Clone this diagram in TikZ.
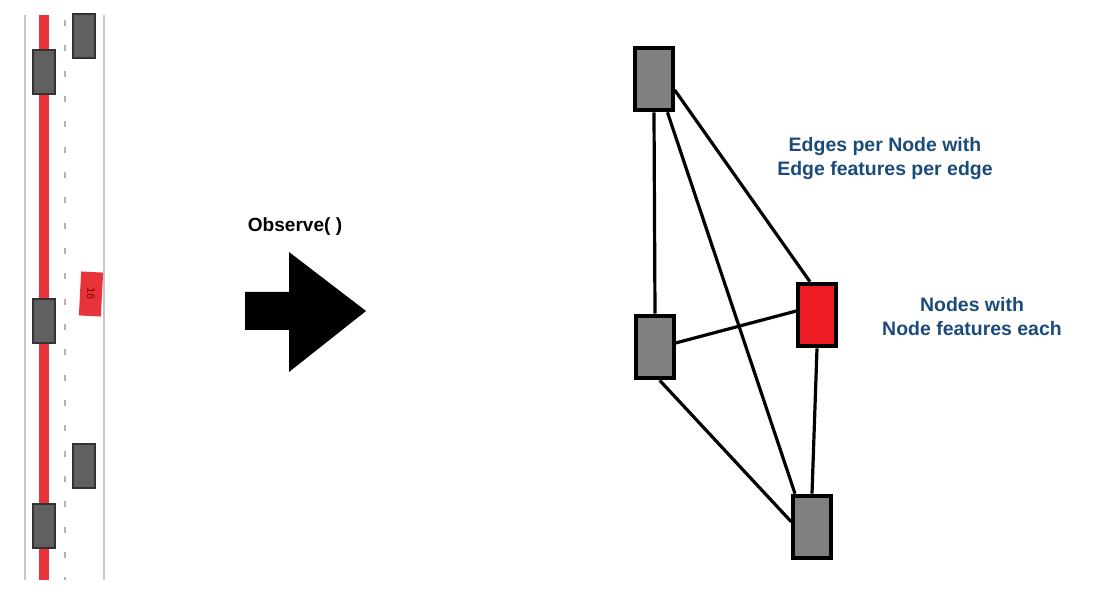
\documentclass[tikz,border=0pt]{standalone}
\usepackage{fontspec}
\setmainfont{Liberation Sans}
\usepackage{xcolor}
\usetikzlibrary{arrows.meta,calc,positioning}
\definecolor{laneRed}{HTML}{E8333A}
\definecolor{carGrey}{HTML}{606060}
\definecolor{graphRed}{HTML}{ED1C24}
\definecolor{labelBlue}{HTML}{1B4B7A}

\begin{document}
\begin{tikzpicture}[x=0.75pt,y=-0.75pt,>=Latex,
  car/.style={draw=black!80,fill=carGrey,line width=0.8pt,inner sep=0pt,minimum width=16.5pt,minimum height=33pt},
  gnode/.style={draw=black,line width=3pt,fill=gray,inner sep=0pt,minimum width=28pt,minimum height=47pt},
  gedge/.style={line width=2.4pt},
  blue label/.style={text=labelBlue,font=\bfseries\fontsize{14.6}{18}\selectfont,align=center}]
  \useasboundingbox (0,0) rectangle (1097,591);
  % road
  \draw[black!22,line width=1.5pt] (25,15)--(25,580);
  \draw[black!22,line width=1.5pt] (104,15)--(104,580);
  \draw[black!30,line width=1.3pt,dash pattern=on 4.5pt off 14.5pt] (65,20)--(65,580);
  \draw[laneRed,line width=7.5pt] (44,15)--(44,580);
  \node[car] (car1) at (44,72) {};
  \node[car] (car2) at (84,36) {};
  \node[car] (car3) at (44,321) {};
  \node[car] (car4) at (84,466) {};
  \node[car] (car5) at (44,526) {};
  \node[fill=laneRed,rotate=-3,inner sep=0pt,minimum width=16.5pt,minimum height=33pt,
        font=\fontsize{8}{8}\selectfont] (ego) at (91,294) {\rotatebox{-90}{\textcolor{red!50!black}{16}}};
  % observe arrow
  \fill[black] (245,292)--(289,292)--(289,252)--(366,311)--(289,372)--(289,330)--(245,330)--cycle;
  \node[font=\bfseries\fontsize{14.3}{16}\selectfont] (obs) at (295,227) {Observe( )};
  % graph
  \node[gnode] (A) at (654,79) {};
  \node[gnode] (B) at (655,347) {};
  \node[gnode,fill=graphRed] (C) at (817,315) {};
  \node[gnode] (D) at (812,527) {};
  \draw[gedge] (A.south) -- (B.north);
  \draw[gedge] (A.-68) -- (D.117);
  \draw[gedge] (A.-28) -- (C.102);
  \draw[gedge] (B.11) -- (C.169);
  \draw[gedge] (B.-82) -- (D.166);
  \draw[gedge] (C.south) -- (D.north);
  \node[blue label] (edgelab) at (885,159) {Edges per Node with\\Edge features per edge};
  \node[blue label] (nodelab) at (972,317) {Nodes with\\Node features each};
\end{tikzpicture}
\end{document}
